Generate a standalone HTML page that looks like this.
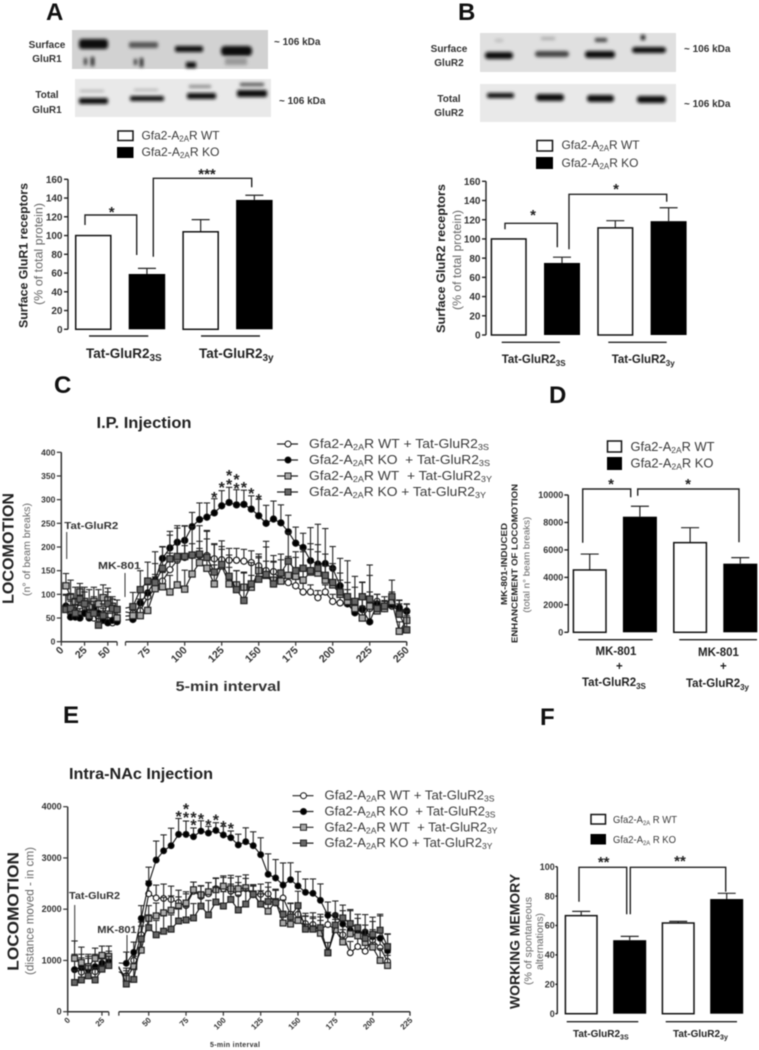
<!DOCTYPE html>
<html lang="en">
<head>
<meta charset="utf-8">
<title>GluR1 and GluR2 surface expression, locomotion and working memory</title>
<style>
html,body{margin:0;padding:0;background:#fff;width:759px;height:1050px;overflow:hidden}
svg{display:block;filter:blur(.4px)}
text{font-family:"Liberation Sans",sans-serif;fill:#222}
.b{font-weight:bold}
.lg{font-size:12px;fill:#3a3a3a}
.sm{font-size:12px;fill:#666}
.panel{font-size:24px;font-weight:bold;fill:#111}
.blot{font-size:10px;font-weight:bold;fill:#333;text-anchor:middle}
.kda{font-size:10px;font-weight:bold;fill:#333}
.grp{font-weight:bold;fill:#222}
.star{font-size:15px;font-weight:bold;fill:#222;text-anchor:middle}
.br{fill:none;stroke:#222;stroke-width:1.4}
.ul{stroke:#222;stroke-width:1.4}
.mk{stroke:#333;stroke-width:1}
</style>
</head>
<body>
<svg id="fig" xmlns="http://www.w3.org/2000/svg" width="759" height="1050" viewBox="0 0 759 1050">
<defs>
<filter id="bl1" x="-20%" y="-60%" width="140%" height="220%"><feGaussianBlur stdDeviation="1.6"/></filter>
</defs>
<rect width="759" height="1050" fill="#fff"/>

<text class="panel" x="46" y="20">A</text>
<text class="panel" x="458" y="20">B</text>
<text class="panel" x="54" y="393">C</text>
<text class="panel" x="549" y="403">D</text>
<text class="panel" x="63" y="723">E</text>
<text class="panel" x="540" y="725">F</text>

<!-- Blot A -->
<g>
<rect x="72" y="30" width="196" height="39" fill="#d2d2d2"/>
<g filter="url(#bl1)" fill="#111">
<rect x="79" y="39" width="29" height="10" rx="3"/>
<rect x="129" y="42" width="29" height="6" rx="2" fill="#555"/>
<rect x="175" y="46" width="28" height="6" rx="2"/>
<rect x="221" y="46" width="31" height="10" rx="4"/>
<rect x="84" y="58" width="3" height="7" fill="#333"/><rect x="91" y="57" width="3" height="9"/>
<rect x="134" y="59" width="3" height="6" fill="#333"/><rect x="140" y="58" width="3" height="9"/>
<rect x="186" y="62" width="10" height="6"/>
<rect x="225" y="58" width="22" height="7" fill="#999"/>
</g>
</g>
<g>
<rect x="75" y="79" width="196" height="38" fill="#e9e9e9"/>
<g filter="url(#bl1)" fill="#111">
<rect x="79" y="98" width="29" height="6" rx="2"/><rect x="130" y="96" width="34" height="5" rx="2"/>
<rect x="187" y="93" width="29" height="6" rx="2"/><rect x="237" y="90" width="30" height="7" rx="2"/>
<rect x="80" y="90" width="24" height="2" fill="#aaa"/><rect x="134" y="89" width="24" height="2" fill="#aaa"/>
<rect x="189" y="85" width="22" height="3" fill="#888"/><rect x="240" y="83" width="24" height="3" fill="#444"/>
</g>
</g>
<text class="blot" x="47" y="48">Surface</text>
<text class="blot" x="47" y="62">GluR1</text>
<text class="blot" x="47" y="98">Total</text>
<text class="blot" x="47" y="113">GluR1</text>
<text class="kda" x="274" y="45">~ 106 kDa</text>
<text class="kda" x="279" y="104">~ 106 kDa</text>

<!-- Blot B -->
<g>
<rect x="480" y="33" width="196" height="39" fill="#e0e0e0"/>
<g filter="url(#bl1)" fill="#111">
<rect x="485" y="52" width="28" height="7" rx="3"/><rect x="535" y="51" width="34" height="6" rx="3" fill="#444"/>
<rect x="585" y="51" width="30" height="7" rx="3"/><rect x="632" y="47" width="34" height="6" rx="3"/>
<rect x="595" y="38" width="12" height="4" fill="#444"/><rect x="641" y="35" width="4" height="5"/>
<rect x="495" y="39" width="8" height="3" fill="#bbb"/><rect x="541" y="37" width="14" height="3" fill="#aaa"/>
</g>
</g>
<g>
<rect x="480" y="84" width="196" height="38" fill="#e9e9e9"/>
<g filter="url(#bl1)" fill="#111">
<rect x="487" y="93" width="27" height="5" rx="2"/><rect x="536" y="94" width="28" height="7" rx="3"/>
<rect x="587" y="95" width="27" height="7" rx="3"/><rect x="637" y="96" width="29" height="7" rx="3"/>
</g>
</g>
<text class="blot" x="449" y="52">Surface</text>
<text class="blot" x="449" y="66">GluR2</text>
<text class="blot" x="449" y="102">Total</text>
<text class="blot" x="449" y="116">GluR2</text>
<text class="kda" x="684" y="52">~ 106 kDa</text>
<text class="kda" x="684" y="107">~ 106 kDa</text>

<!-- Bar legends -->
<g>
<rect x="118" y="131" width="15" height="9.5" fill="#fff" stroke="#111" stroke-width="1.5"/><rect x="117" y="147" width="16.5" height="11" fill="#000"/>
<text class="lg" x="141.5" y="139.5" textLength="78" lengthAdjust="spacingAndGlyphs">Gfa2-A<tspan dy="2" font-size="8">2A</tspan><tspan dy="-2">R WT</tspan></text>
<text class="lg" x="141.5" y="156" textLength="78" lengthAdjust="spacingAndGlyphs">Gfa2-A<tspan dy="2" font-size="8">2A</tspan><tspan dy="-2">R KO</tspan></text>
</g>
<g>
<rect x="537" y="140.5" width="15.5" height="10.5" fill="#fff" stroke="#111" stroke-width="1.5"/><rect x="536" y="157" width="17" height="12" fill="#000"/>
<text class="lg" x="561.5" y="149" textLength="78" lengthAdjust="spacingAndGlyphs">Gfa2-A<tspan dy="2" font-size="8">2A</tspan><tspan dy="-2">R WT</tspan></text>
<text class="lg" x="561.5" y="167" textLength="77" lengthAdjust="spacingAndGlyphs">Gfa2-A<tspan dy="2" font-size="8">2A</tspan><tspan dy="-2">R KO</tspan></text>
</g>
<g>
<rect x="607.5" y="441" width="14" height="11" fill="#fff" stroke="#111" stroke-width="1.5"/><rect x="607" y="457" width="15" height="13" fill="#000"/>
<text class="lg" style="font-size:13px" x="630.5" y="451" textLength="84" lengthAdjust="spacingAndGlyphs">Gfa2-A<tspan dy="2" font-size="8.5">2A</tspan><tspan dy="-2">R WT</tspan></text>
<text class="lg" style="font-size:13px" x="630.5" y="467.5" textLength="83" lengthAdjust="spacingAndGlyphs">Gfa2-A<tspan dy="2" font-size="8.5">2A</tspan><tspan dy="-2">R KO</tspan></text>
</g>
<g>
<rect x="591" y="814.5" width="14.5" height="9.5" fill="#fff" stroke="#111" stroke-width="1.5"/><rect x="590.5" y="834" width="15.5" height="10.5" fill="#000"/>
<text class="lg" style="font-size:10.5px" x="613" y="823" textLength="64" lengthAdjust="spacingAndGlyphs">Gfa2-A<tspan dy="2" font-size="6.5">2A</tspan><tspan dy="-2"> R WT</tspan></text>
<text class="lg" style="font-size:10.5px" x="613" y="843" textLength="63" lengthAdjust="spacingAndGlyphs">Gfa2-A<tspan dy="2" font-size="6.5">2A</tspan><tspan dy="-2"> R KO</tspan></text>
</g>

<!-- Brackets and significance -->
<g>
<path class="br" d="M85 225V215H136.7V255"/><path class="br" d="M153.3 256.7V178.3H251.7V187.3"/>
<text class="star" x="111.7" y="217">*</text><text class="star" x="207" y="179">***</text>
</g>
<g>
<path class="br" d="M505 229.3V223.3H557.3V247.3"/><path class="br" d="M569 249.3V194.3H666.7V201.7"/>
<text class="star" x="533" y="220">*</text><text class="star" x="616" y="194">*</text>
</g>
<g>
<path class="br" d="M582.7 542.7V489H630.7V497.3"/><path class="br" d="M637.7 495.7V489H739V542.3"/>
<text class="star" x="611" y="489">*</text><text class="star" x="688" y="489">*</text>
</g>
<g>
<path class="br" d="M579 901.7V867.3H626.7V914.3"/><path class="br" d="M630.3 914.3V867.3H725.7V891.7"/>
<text class="star" x="603.7" y="867">**</text><text class="star" x="680" y="866">**</text>
</g>

<!-- Group underlines and labels -->
<g>
<line class="ul" x1="89" x2="148.3" y1="336" y2="336"/><line class="ul" x1="201" x2="260" y1="336" y2="336"/>
<text class="grp" style="font-size:13.5px" x="86" y="358">Tat-GluR2<tspan dy="3" font-size="10">3S</tspan></text>
<text class="grp" style="font-size:13.5px" x="199" y="358">Tat-GluR2<tspan dy="3" font-size="10">3y</tspan></text>
</g>
<g>
<line class="ul" x1="501.7" x2="560" y1="342.3" y2="342.3"/><line class="ul" x1="608.3" x2="666.7" y1="342.3" y2="342.3"/>
<text class="grp" style="font-size:11.5px" x="501.7" y="363">Tat-GluR2<tspan dy="3" font-size="8">3S</tspan></text>
<text class="grp" style="font-size:11.5px" x="611.7" y="363">Tat-GluR2<tspan dy="3" font-size="8">3y</tspan></text>
</g>
<g>
<line class="ul" x1="578.3" x2="652.7" y1="639.7" y2="639.7"/><line class="ul" x1="679.3" x2="757" y1="639.7" y2="639.7"/>
<text class="grp" style="font-size:11.5px" x="595.5" y="655">MK-801</text><text class="grp" style="font-size:11.5px" x="616" y="670">+</text>
<text class="grp" style="font-size:11.5px" x="582" y="686">Tat-GluR2<tspan dy="3" font-size="8">3S</tspan></text>
<text class="grp" style="font-size:11.5px" x="698" y="656">MK-801</text><text class="grp" style="font-size:11.5px" x="720" y="670">+</text>
<text class="grp" style="font-size:11.5px" x="686" y="687">Tat-GluR2<tspan dy="3" font-size="8">3y</tspan></text>
</g>
<g>
<line class="ul" x1="566.7" x2="638.3" y1="1021.7" y2="1021.7"/><line class="ul" x1="665.7" x2="737" y1="1021.7" y2="1021.7"/>
<text class="grp" style="font-size:10px" x="573" y="1037">Tat-GluR2<tspan dy="2.5" font-size="7">3S</tspan></text>
<text class="grp" style="font-size:10px" x="673" y="1037">Tat-GluR2<tspan dy="2.5" font-size="7">3y</tspan></text>
</g>

<!-- Axis titles -->
<text class="b" transform="translate(27.5,328) rotate(-90)" style="font-size:12px" textLength="145" lengthAdjust="spacingAndGlyphs">Surface GluR1 receptors</text>
<text class="sm" transform="translate(42.5,305) rotate(-90)" textLength="102" lengthAdjust="spacingAndGlyphs">(% of total protein)</text>
<text class="b" transform="translate(445,333) rotate(-90)" style="font-size:12.3px" textLength="149" lengthAdjust="spacingAndGlyphs">Surface GluR2 receptors</text>
<text class="sm" transform="translate(461,310) rotate(-90)" textLength="100" lengthAdjust="spacingAndGlyphs">(% of total protein)</text>
<text class="b" transform="translate(13.5,604) rotate(-90)" style="font-size:15.5px" textLength="111" lengthAdjust="spacingAndGlyphs">LOCOMOTION</text>
<text class="sm" transform="translate(30,596) rotate(-90)" style="font-size:10.5px" textLength="93" lengthAdjust="spacingAndGlyphs">(n° of beam breaks)</text>
<text class="b" transform="translate(507,605) rotate(-90)" style="font-size:8.5px" textLength="82" lengthAdjust="spacingAndGlyphs">MK-801-INDUCED</text>
<text class="b" transform="translate(517.5,643) rotate(-90)" style="font-size:8.5px" textLength="159" lengthAdjust="spacingAndGlyphs">ENHANCEMENT OF LOCOMOTION</text>
<text class="sm" transform="translate(529.5,612.7) rotate(-90)" style="font-size:9.5px" textLength="96" lengthAdjust="spacingAndGlyphs">(total n° beam breaks)</text>
<text class="b" transform="translate(18.5,970.7) rotate(-90)" style="font-size:16px" textLength="118.7" lengthAdjust="spacingAndGlyphs">LOCOMOTION</text>
<text class="sm" transform="translate(33.5,975) rotate(-90)" textLength="128" lengthAdjust="spacingAndGlyphs">(distance moved - in cm)</text>
<text class="b" transform="translate(519.5,1009) rotate(-90)" style="font-size:14px" textLength="135" lengthAdjust="spacingAndGlyphs">WORKING MEMORY</text>
<text class="sm" transform="translate(531.7,985) rotate(-90)" style="font-size:10px" textLength="88" lengthAdjust="spacingAndGlyphs">(% of spontaneous</text>
<text class="sm" transform="translate(543,970) rotate(-90)" style="font-size:10px" textLength="57" lengthAdjust="spacingAndGlyphs">alternations)</text>

<!-- Line chart titles and annotations -->
<text class="b" x="96.5" y="428" style="font-size:15.5px" textLength="95" lengthAdjust="spacingAndGlyphs">I.P. Injection</text>
<text class="b" x="69" y="779" style="font-size:15.5px" textLength="144" lengthAdjust="spacingAndGlyphs">Intra-NAc Injection</text>
<text class="b" x="175.7" y="691" style="font-size:14px;fill:#333" textLength="105" lengthAdjust="spacingAndGlyphs">5-min interval</text>
<text class="b" x="210" y="1047" style="font-size:7px;fill:#333" textLength="50">5-min interval</text>
<g><text class="b" x="64.3" y="529" style="font-size:10.5px;fill:#333" textLength="54" lengthAdjust="spacingAndGlyphs">Tat-GluR2</text><line class="mk" x1="66.7" x2="66.7" y1="532" y2="559"/></g>
<g><text class="b" x="98" y="569" style="font-size:10.5px;fill:#333" textLength="42.7" lengthAdjust="spacingAndGlyphs">MK-801</text><line class="mk" x1="125" x2="125" y1="573" y2="597"/></g>
<g><text class="b" x="69" y="899" style="font-size:10.5px;fill:#333" textLength="51" lengthAdjust="spacingAndGlyphs">Tat-GluR2</text><line class="mk" x1="74.7" x2="74.7" y1="905" y2="944"/></g>
<g><text class="b" x="97.3" y="933" style="font-size:10.5px;fill:#333" textLength="39.4" lengthAdjust="spacingAndGlyphs">MK-801</text><line class="mk" x1="127" x2="127" y1="935" y2="963"/></g>
<g id="lineC"></g>
<g id="lineE"></g>
<g id="bars"></g>
</svg>

<script>
// ---------- Bar chart data ----------
var barGroups = ['WT 3S', 'KO 3S', 'WT 3y', 'KO 3y'];
var barFills = ['#fff', '#000', '#fff', '#000'];
var aTicks = [0, 20, 40, 60, 80, 100, 120, 140, 160];
var aValues = [100, 59, 104, 138];
var aErrors = [0, 6, 13, 5];
var bTicks = [0, 20, 40, 60, 80, 100, 120, 140, 160];
var bValues = [100, 75, 111.5, 118.5];
var bErrors = [0, 6, 7.5, 14];
var dTicks = [0, 2000, 4000, 6000, 8000, 10000];
var dValues = [4540, 8420, 6530, 5000];
var dErrors = [1160, 760, 1090, 440];
var fTicks = [0, 20, 40, 60, 80, 100];
var fValues = [66.7, 50, 61.7, 78];
var fErrors = [2.9, 2.6, 1.1, 3.9];

// ---------- Panel C data (intervals 5-60 and 65-250) ----------
var cYTicks = [0, 50, 100, 150, 200, 250, 300, 350, 400];
var cXTicksPre = [0, 25, 50];
var cXTicksPost = [75, 100, 125, 150, 175, 200, 225, 250];
var cIntervalsPre = [5, 10, 15, 20, 25, 30, 35, 40, 45, 50, 55, 60];
var cIntervalsPost = [65, 70, 75, 80, 85, 90, 95, 100, 105, 110, 115, 120, 125, 130, 135, 140, 145, 150, 155, 160, 165, 170, 175, 180, 185, 190, 195, 200, 205, 210, 215, 220, 225, 230, 235, 240, 245, 250];
var cWtSPre = [75, 60, 65, 70, 60, 60, 50, 55, 50, 45, 40, 45];
var cKoSPre = [75, 52, 52, 50, 60, 50, 70, 60, 45, 40, 45, 42];
var cWtYPre = [118, 95, 85, 105, 85, 75, 85, 80, 93, 88, 75, 50];
var cKoYPre = [68, 70, 60, 90, 80, 55, 60, 35, 55, 80, 70, 68];
var cWtSPreErr = [25, 25, 20, 25, 25, 20, 20, 20, 20, 20, 20, 20];
var cKoSPreErr = [25, 20, 25, 20, 25, 20, 25, 20, 20, 20, 20, 15];
var cWtYPreErr = [26, 35, 30, 18, 30, 35, 30, 30, 27, 25, 20, 20];
var cKoYPreErr = [30, 30, 30, 25, 25, 30, 25, 25, 25, 25, 20, 20];
var cWtSPost = [60, 65, 95, 112, 128, 152, 172, 178, 182, 182, 182, 175, 173, 172, 172, 170, 167, 160, 150, 148, 130, 125, 118, 105, 105, 93, 105, 85, 82, 80, 65, 70, 70, 85, 70, 75, 65, 65];
var cKoSPost = [47, 82, 103, 130, 176, 198, 210, 214, 243, 258, 263, 272, 287, 294, 289, 290, 280, 266, 250, 259, 251, 232, 208, 199, 171, 164, 165, 155, 118, 80, 61, 68, 42, 80, 72, 78, 72, 64];
var cWtYPost = [55, 55, 66, 112, 116, 105, 120, 111, 143, 167, 155, 122, 160, 122, 120, 115, 115, 150, 140, 130, 128, 140, 138, 130, 147, 145, 130, 120, 100, 85, 70, 50, 75, 65, 70, 85, 22, 45];
var cKoYPost = [74, 110, 128, 125, 155, 175, 180, 180, 183, 185, 178, 147, 163, 138, 110, 87, 122, 132, 142, 122, 145, 170, 150, 155, 150, 155, 140, 125, 105, 95, 85, 95, 90, 70, 75, 95, 58, 25];
var cWtSPostErr = [15, 20, 25, 25, 30, 35, 40, 25, 25, 30, 35, 30, 28, 25, 25, 25, 25, 25, 20, 20, 20, 20, 18, 18, 15, 15, 15, 15, 20, 15, 25, 20, 25, 15, 15, 15, 15, 15];
var cKoSPostErr = [20, 25, 30, 35, 25, 35, 35, 30, 30, 35, 30, 30, 32, 32, 32, 30, 28, 35, 38, 38, 38, 35, 34, 30, 70, 84, 74, 46, 58, 91, 77, 58, 120, 20, 15, 15, 15, 15];
var cWtYPostErr = [25, 35, 40, 30, 30, 35, 50, 40, 40, 30, 80, 40, 35, 35, 30, 30, 25, 30, 60, 40, 45, 40, 40, 60, 60, 45, 30, 35, 30, 25, 20, 25, 30, 20, 15, 20, 20, 20];
var cKoYPostErr = [30, 40, 40, 65, 45, 50, 60, 65, 60, 60, 55, 60, 50, 45, 40, 60, 45, 45, 70, 60, 40, 60, 40, 40, 45, 50, 45, 40, 40, 30, 30, 30, 50, 15, 20, 35, 30, 30];
var cBreakValues = [63, 46, 54, 71];
var cStarIntervals = [120, 125, 130, 130, 135, 135, 140, 145, 150];
var cStarValues = [310, 331, 356, 337, 348, 329, 331, 318, 306];

// ---------- Panel E data (intervals 5-30 and 35-210) ----------
var eYTicks = [0, 1000, 2000, 3000, 4000];
var eXTicksPre = [0, 25];
var eXTicksPost = [50, 75, 100, 125, 150, 175, 200, 225];
var eIntervalsPre = [5, 10, 15, 20, 25, 30];
var eIntervalsPost = [35, 40, 45, 50, 55, 60, 65, 70, 75, 80, 85, 90, 95, 100, 105, 110, 115, 120, 125, 130, 135, 140, 145, 150, 155, 160, 165, 170, 175, 180, 185, 190, 195, 200, 205, 210];
var eWtSPre = [820, 770, 880, 780, 900, 1000];
var eKoSPre = [820, 860, 820, 880, 950, 980];
var eWtYPre = [1040, 960, 880, 1040, 1100, 1080];
var eKoYPre = [570, 620, 700, 620, 830, 900];
var eWtSPreErr = [250, 280, 200, 260, 200, 180];
var eKoSPreErr = [300, 260, 220, 240, 200, 150];
var eWtYPreErr = [340, 300, 240, 200, 180, 200];
var eKoYPreErr = [240, 240, 200, 240, 200, 180];
var eWtSPost = [700, 1000, 1500, 2300, 2220, 2210, 2190, 2130, 2070, 2350, 2250, 2300, 2400, 2400, 2350, 2300, 2400, 2280, 2290, 2300, 2120, 2220, 1900, 1900, 1720, 1700, 1600, 1700, 1600, 1500, 1150, 1270, 1180, 1400, 1250, 980];
var eKoSPost = [943, 1158, 1820, 2500, 2960, 3140, 3240, 3460, 3460, 3415, 3525, 3486, 3538, 3448, 3396, 3253, 3318, 3240, 3064, 2680, 2609, 2472, 2576, 2453, 2329, 2310, 2173, 1880, 1880, 1711, 1594, 1561, 1555, 1464, 1431, 1190];
var eWtYPost = [650, 880, 1200, 1820, 1870, 1930, 1980, 2060, 2120, 2380, 2280, 2340, 2380, 2450, 2400, 2400, 2420, 2300, 2100, 1960, 2150, 1730, 1710, 1780, 1650, 1620, 1530, 1150, 1600, 1360, 1520, 1480, 1350, 1260, 1000, 900];
var eKoYPost = [540, 630, 1420, 1640, 1500, 1570, 1610, 1770, 1790, 1830, 2060, 1890, 2140, 2062, 2190, 1985, 2100, 2290, 2100, 2150, 2130, 1900, 1850, 2070, 1610, 1610, 1640, 1150, 1690, 1830, 1720, 1640, 1430, 1510, 1590, 1270];
var eWtSPostErr = [150, 150, 250, 250, 250, 280, 260, 240, 230, 180, 200, 220, 200, 220, 260, 220, 270, 200, 200, 220, 250, 250, 220, 200, 200, 230, 250, 240, 200, 220, 220, 200, 200, 200, 200, 170];
var eKoSPostErr = [220, 200, 250, 320, 370, 310, 340, 310, 260, 170, 200, 130, 150, 170, 130, 210, 270, 270, 330, 400, 360, 430, 330, 280, 260, 280, 320, 260, 280, 260, 400, 260, 340, 380, 470, 330];
var eWtYPostErr = [150, 200, 250, 250, 250, 300, 280, 180, 220, 150, 180, 180, 230, 200, 260, 240, 180, 150, 200, 230, 220, 230, 240, 240, 220, 200, 250, 200, 280, 240, 200, 200, 240, 260, 230, 200];
var eKoYPostErr = [200, 200, 250, 250, 280, 300, 280, 250, 260, 280, 280, 280, 280, 280, 300, 290, 300, 170, 260, 280, 260, 280, 260, 280, 250, 240, 260, 200, 220, 250, 250, 260, 260, 250, 280, 240];
var eBreakValues = [780, 950, 850, 880];
var eStarIntervals = [70, 75, 75, 80, 80, 85, 90, 95, 100, 105];
var eStarValues = [3857, 4000, 3838, 3838, 3688, 3805, 3688, 3793, 3662, 3623];

// ---------- Legend text ----------
var legendGenotypes = ['WT\u00a0', 'KO\u00a0\u00a0', 'WT\u00a0\u00a0', 'KO\u00a0'];
var legendPeptides = ['3S', '3S', '3Y', '3Y'];

// ---------- Drawing helpers ----------
var NS = 'http://www.w3.org/2000/svg';
function node(parent, tag, name, attrs, txt) {
  var e = document.createElementNS(NS, tag);
  
  
  for (var k in attrs) { e.setAttribute(k, attrs[k]); }
  if (txt !== undefined) { e.textContent = txt; }
  parent.appendChild(e);
  return e;
}

function barChart(cfg) {
  var g = node(document.getElementById('bars'), 'g', 'bar-chart-' + cfg.id, {});
  var y = function (v) { return cfg.y0 - v * (cfg.y0 - cfg.yTop) / cfg.max; };
  node(g, 'line', 'y-axis-' + cfg.id, { x1: cfg.axisX, x2: cfg.axisX, y1: y(0), y2: y(cfg.max), stroke: '#222', 'stroke-width': 1.4 });
  cfg.ticks.forEach(function (t) {
    node(g, 'line', 'y-tick-' + cfg.id + '-' + t, { x1: cfg.axisX - cfg.tickLen, x2: cfg.axisX, y1: y(t), y2: y(t), stroke: '#222', 'stroke-width': 1.4 });
    node(g, 'text', 'y-tick-label-' + cfg.id + '-' + t, { x: cfg.axisX - cfg.labelGap, y: y(t) + cfg.fs * 0.36, 'text-anchor': 'end', style: 'font-size:' + cfg.fs + 'px;font-weight:bold;fill:#333' }, String(t));
  });
  cfg.values.forEach(function (v, i) {
    var x = cfg.barX + i * cfg.step, cx = x + cfg.barW / 2;
    var dark = barFills[i] === '#000';
    if (cfg.errors[i] > 0) {
      var ty = y(v + cfg.errors[i]);
      node(g, 'line', 'error-bar-' + cfg.id + '-' + (i + 1), { x1: cx, x2: cx, y1: y(v), y2: ty, stroke: '#222', 'stroke-width': 1.2 });
      node(g, 'line', 'error-cap-' + cfg.id + '-' + (i + 1), { x1: cx - 9, x2: cx + 9, y1: ty, y2: ty, stroke: '#222', 'stroke-width': 1.2 });
    }
    node(g, 'rect', 'bar-' + cfg.id + '-' + barGroups[i].replace(' ', '-').toLowerCase(), {
      x: dark ? x : x + 0.7, y: y(v), width: dark ? cfg.barW : cfg.barW - 1.4, height: y(0) - y(v),
      fill: barFills[i], stroke: dark ? 'none' : '#111', 'stroke-width': 1.5
    });
  });
}

barChart({ id: 'a', axisX: 68, y0: 329.3, yTop: 179.3, max: 160, ticks: aTicks, values: aValues, errors: aErrors, barX: 75, step: 53.7, barW: 36.5, fs: 10, tickLen: 4, labelGap: 5.5 });
barChart({ id: 'b', axisX: 486, y0: 335, yTop: 181.3, max: 160, ticks: bTicks, values: bValues, errors: bErrors, barX: 490.7, step: 53.3, barW: 36, fs: 10, tickLen: 4, labelGap: 5.5 });
barChart({ id: 'd', axisX: 568.3, y0: 632.3, yTop: 495, max: 10000, ticks: dTicks, values: dValues, errors: dErrors, barX: 572.7, step: 50.2, barW: 34, fs: 9, tickLen: 4, labelGap: 5 });
barChart({ id: 'f', axisX: 557.3, y0: 1013.7, yTop: 866.7, max: 100, ticks: fTicks, values: fValues, errors: fErrors, barX: 564.7, step: 48.5, barW: 33, fs: 9, tickLen: 2, labelGap: 2.5 });

function lineChart(cfg) {
  var g = document.getElementById(cfg.target);
  var y = cfg.y;
  node(g, 'line', 'y-axis', { x1: cfg.axisX, x2: cfg.axisX, y1: y(0), y2: y(cfg.yMax), stroke: '#333', 'stroke-width': 1.5 });
  cfg.yTicks.forEach(function (t) {
    node(g, 'line', 'y-tick-' + t, { x1: cfg.axisX - 4.5, x2: cfg.axisX, y1: y(t), y2: y(t), stroke: '#333', 'stroke-width': 1.2 });
    node(g, 'text', 'y-tick-label-' + t, { x: cfg.axisX - 6, y: y(t) + 3, 'text-anchor': 'end', style: 'font-size:' + cfg.yFs + 'px;font-weight:bold;fill:#333' }, String(t));
  });
  node(g, 'line', 'x-axis-left-segment', { x1: cfg.xPre(0), x2: cfg.xPre(cfg.preEnd), y1: y(0), y2: y(0), stroke: '#333', 'stroke-width': 1.5 });
  node(g, 'line', 'x-axis-right-segment', { x1: cfg.xPost(cfg.preEnd), x2: cfg.xPost(cfg.postEnd), y1: y(0), y2: y(0), stroke: '#333', 'stroke-width': 1.5 });
  [[cfg.xPre, cfg.preEnd], [cfg.xPost, cfg.preEnd], [cfg.xPost, cfg.postEnd]].forEach(function (p, i) {
    node(g, 'line', 'x-axis-end-tick-' + (i + 1), { x1: p[0](p[1]), x2: p[0](p[1]), y1: y(0), y2: y(0) + 4, stroke: '#333', 'stroke-width': 1.2 });
  });
  function xTick(t, fx) {
    var px = fx(t);
    node(g, 'line', 'x-tick-' + t, { x1: px, x2: px, y1: y(0), y2: y(0) + 4, stroke: '#333', 'stroke-width': 1.2 });
    node(g, 'text', 'x-tick-label-' + t, { transform: 'translate(' + (px + 3) + ',' + (y(0) + cfg.xLabDy) + ') rotate(-45)', 'text-anchor': 'end', style: 'font-size:' + cfg.xFs + 'px;font-weight:bold;fill:#333' }, String(t));
  }
  cfg.xTicksPre.forEach(function (t) { xTick(t, cfg.xPre); });
  cfg.xTicksPost.forEach(function (t) { xTick(t, cfg.xPost); });

  cfg.series.forEach(function (s, si) {
    var sg = node(g, 'g', 'series-' + s.id, {});
    function part(ints, vals, errs, fx, first) {
      var pts = ints.map(function (t, i) { return fx(t).toFixed(1) + ',' + y(vals[i]).toFixed(1); });
      if (first !== undefined) { pts.unshift(fx(cfg.preEnd).toFixed(1) + ',' + y(first).toFixed(1)); }
      ints.forEach(function (t, i) {
        var px = fx(t), ty = y(vals[i] + errs[i]);
        node(sg, 'line', 'error-bar-' + s.id + '-' + t, { x1: px, x2: px, y1: y(vals[i]), y2: ty, stroke: '#222', 'stroke-width': 1.1 });
        node(sg, 'line', 'error-cap-' + s.id + '-' + t, { x1: px - 3.2, x2: px + 3.2, y1: ty, y2: ty, stroke: '#222', 'stroke-width': 1.1 });
      });
      node(sg, 'polyline', 'line-' + s.id, { points: pts.join(' '), fill: 'none', stroke: '#111', 'stroke-width': 1.1 });
      ints.forEach(function (t, i) {
        var px = fx(t), py = y(vals[i]);
        if (s.shape === 'circle') {
          node(sg, 'circle', 'point-' + s.id + '-' + t, { cx: px, cy: py, r: cfg.ms * 0.5, fill: s.fill, stroke: '#111', 'stroke-width': 1.1 });
        } else {
          node(sg, 'rect', 'point-' + s.id + '-' + t, { x: px - cfg.ms / 2, y: py - cfg.ms / 2, width: cfg.ms, height: cfg.ms, fill: s.fill, stroke: '#222', 'stroke-width': 1.2 });
        }
      });
    }
    part(cfg.intsPre, s.pre, s.preErr, cfg.xPre);
    part(cfg.intsPost, s.post, s.postErr, cfg.xPost, cfg.breakValues[si]);
  });

  cfg.starInts.forEach(function (t, i) {
    node(g, 'text', 'significance-star-' + (i + 1), { x: cfg.xPost(t), y: y(cfg.starVals[i]) + 8, 'text-anchor': 'middle', style: 'font-size:' + cfg.starFs + 'px;font-weight:bold;fill:#222' }, '*');
  });

  // Legend
  var lg = node(g, 'g', 'legend', {});
  cfg.series.forEach(function (s, i) {
    var ly = cfg.legY + i * cfg.legStep;
    node(lg, 'line', 'legend-line-' + s.id, { x1: cfg.legX, x2: cfg.legX + 21, y1: ly, y2: ly, stroke: '#222', 'stroke-width': 1.2 });
    var mx = cfg.legX + 11;
    if (s.shape === 'circle') {
      node(lg, 'circle', 'legend-marker-' + s.id, { cx: mx, cy: ly, r: 3, fill: s.fill, stroke: '#111', 'stroke-width': 1 });
    } else {
      node(lg, 'rect', 'legend-marker-' + s.id, { x: mx - 3, y: ly - 3, width: 6, height: 6, fill: s.fill, stroke: '#222', 'stroke-width': 1 });
    }
    var t = node(lg, 'text', 'legend-entry-' + s.id, { x: cfg.legX + cfg.legTextDx, y: ly + 4, textLength: cfg.legLens[i], lengthAdjust: 'spacingAndGlyphs', style: 'font-size:13px;fill:#3a3a3a' });
    t.appendChild(document.createTextNode('Gfa2-A'));
    var a = document.createElementNS(NS, 'tspan');
    a.setAttribute('dy', '2'); a.setAttribute('font-size', '8.5'); a.textContent = '2A';
    t.appendChild(a);
    var b = document.createElementNS(NS, 'tspan');
    b.setAttribute('dy', '-2'); b.textContent = 'R ' + legendGenotypes[i] + '+ Tat-GluR2';
    t.appendChild(b);
    var c = document.createElementNS(NS, 'tspan');
    c.setAttribute('dy', '2'); c.setAttribute('font-size', '8.5'); c.textContent = legendPeptides[i];
    t.appendChild(c);
  });
}

lineChart({
  target: 'lineC', axisX: 61.3, yMax: 400, yTicks: cYTicks, yFs: 8.5, xFs: 10.5, xLabDy: 9, ms: 6.2, starFs: 16,
  y: function (v) { return 641.7 - v * 0.4735; },
  xPre: function (v) { return 61.3 + v * 0.93; },
  xPost: function (v) { return 147.7 + (v - 75) * 1.48; },
  preEnd: 60, postEnd: 250, xTicksPre: cXTicksPre, xTicksPost: cXTicksPost,
  intsPre: cIntervalsPre, intsPost: cIntervalsPost, breakValues: cBreakValues,
  starInts: cStarIntervals, starVals: cStarValues,
  legX: 277, legY: 444, legStep: 16, legTextDx: 32, legLens: [180, 181, 183, 177],
  series: [
    { id: 'wt-3s', shape: 'circle', fill: '#fff', pre: cWtSPre, post: cWtSPost, preErr: cWtSPreErr, postErr: cWtSPostErr },
    { id: 'ko-3s', shape: 'circle', fill: '#000', pre: cKoSPre, post: cKoSPost, preErr: cKoSPreErr, postErr: cKoSPostErr },
    { id: 'wt-3y', shape: 'rect', fill: '#aaa', pre: cWtYPre, post: cWtYPost, preErr: cWtYPreErr, postErr: cWtYPostErr },
    { id: 'ko-3y', shape: 'rect', fill: '#666', pre: cKoYPre, post: cKoYPost, preErr: cKoYPreErr, postErr: cKoYPostErr }
  ]
});

lineChart({
  target: 'lineE', axisX: 67.7, yMax: 4000, yTicks: eYTicks, yFs: 9, xFs: 8, xLabDy: 9, ms: 5.8, starFs: 16,
  y: function (v) { return 1011.7 - v * 0.05125; },
  xPre: function (v) { return 67.7 + v * 1.37; },
  xPost: function (v) { return 148.7 + (v - 50) * 1.493; },
  preEnd: 30, postEnd: 225, xTicksPre: eXTicksPre, xTicksPost: eXTicksPost,
  intsPre: eIntervalsPre, intsPost: eIntervalsPost, breakValues: eBreakValues,
  starInts: eStarIntervals, starVals: eStarValues,
  legX: 292.5, legY: 795.7, legStep: 15.8, legTextDx: 32, legLens: [170, 171, 173, 168],
  series: [
    { id: 'wt-3s', shape: 'circle', fill: '#fff', pre: eWtSPre, post: eWtSPost, preErr: eWtSPreErr, postErr: eWtSPostErr },
    { id: 'ko-3s', shape: 'circle', fill: '#000', pre: eKoSPre, post: eKoSPost, preErr: eKoSPreErr, postErr: eKoSPostErr },
    { id: 'wt-3y', shape: 'rect', fill: '#aaa', pre: eWtYPre, post: eWtYPost, preErr: eWtYPreErr, postErr: eWtYPostErr },
    { id: 'ko-3y', shape: 'rect', fill: '#666', pre: eKoYPre, post: eKoYPost, preErr: eKoYPreErr, postErr: eKoYPostErr }
  ]
});
</script>
</body>
</html>
